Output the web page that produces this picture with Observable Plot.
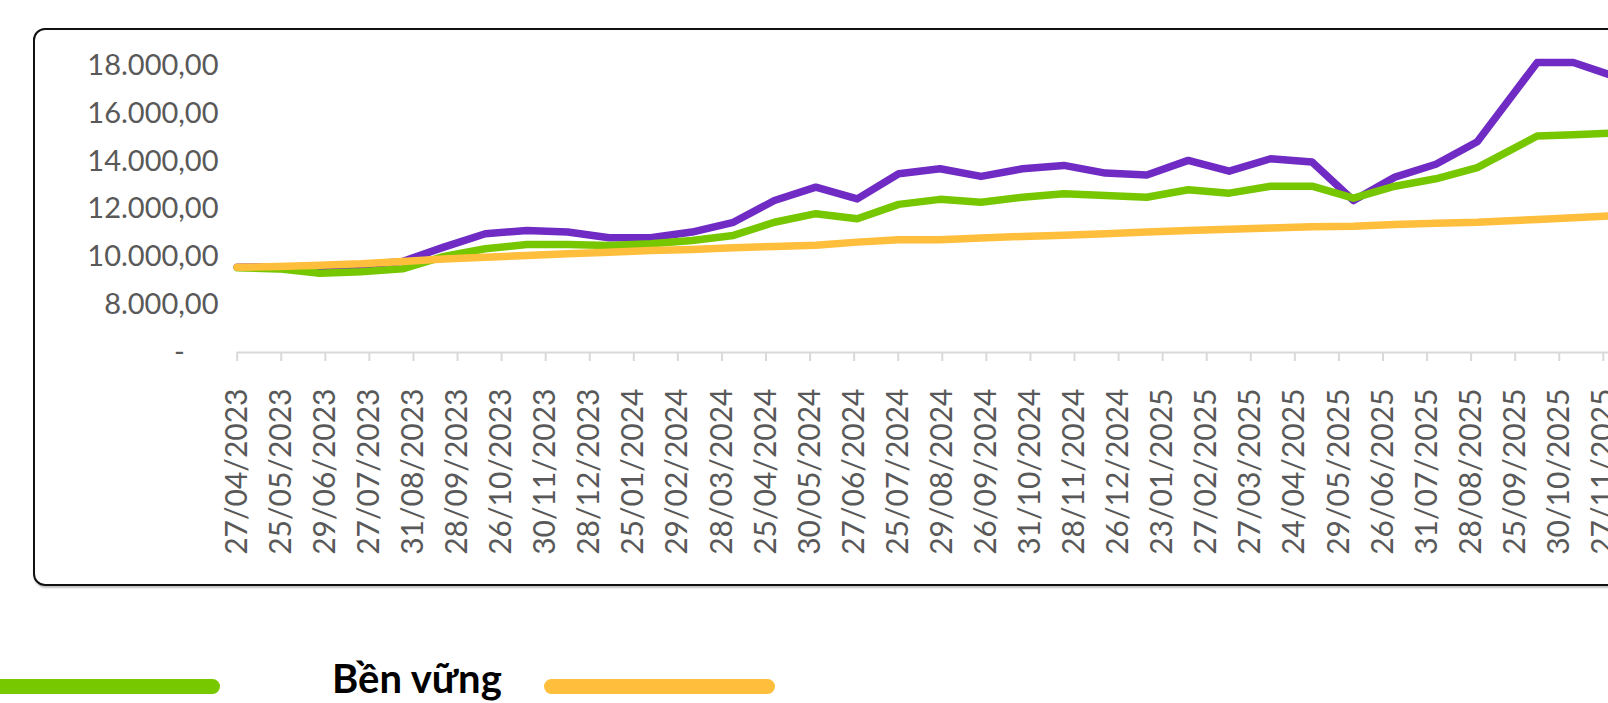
<!DOCTYPE html>
<html>
<head>
<meta charset="utf-8">
<script src="https://cdn.jsdelivr.net/npm/d3@7"></script>
<script src="https://cdn.jsdelivr.net/npm/@observablehq/plot@0.6"></script>
<style>
  html, body { margin: 0; padding: 0; width: 1608px; height: 703px; overflow: hidden; background: #fff; }
  #frame { position: absolute; left: 32.5px; top: 27.5px; width: 1800px; height: 558.5px; box-sizing: border-box;
           border: 2.5px solid #111; border-radius: 12px; box-shadow: 1px 2px 2px rgba(0,0,0,0.25); }
  #chart { position: absolute; left: 0; top: 0; width: 1700px; }
  #chart svg { max-width: none !important; }
  .bar { position: absolute; top: 678.5px; height: 15px; border-radius: 7.5px; }
  #lbl { position: absolute; left: 332px; top: 658px; font: bold 40px/40px "Lato", sans-serif; color: #000; white-space: nowrap; }
</style>
</head>
<body>
<div id="frame"></div>
<div id="chart"></div>
<div class="bar" style="left:-20px;width:240px;background:#78c800"></div>
<div id="lbl">Bền vững</div>
<div class="bar" style="left:544px;width:231px;background:#ffbf3c"></div>
<script>
// x-axis category labels (one per month)
const xLabels = ["27/04/2023","25/05/2023","29/06/2023","27/07/2023","31/08/2023","28/09/2023","26/10/2023","30/11/2023","28/12/2023","25/01/2024","29/02/2024","28/03/2024","25/04/2024","30/05/2024","27/06/2024","25/07/2024","29/08/2024","26/09/2024","31/10/2024","28/11/2024","26/12/2024","23/01/2025","27/02/2025","27/03/2025","24/04/2025","29/05/2025","26/06/2025","31/07/2025","28/08/2025","25/09/2025","30/10/2025","27/11/2025"];
// y-axis ticks and their printed labels
const yTicks = [6000, 8000, 10000, 12000, 14000, 16000, 18000];
const yTickLabels = ["-", "8.000,00", "10.000,00", "12.000,00", "14.000,00", "16.000,00", "18.000,00"];
// position of each reading, in months from the first label
const t = [0, 0.94, 1.88, 2.81, 3.75, 4.69, 5.63, 6.57, 7.50, 8.44, 9.38, 10.32, 11.26, 12.19, 13.13, 14.07, 15.01, 15.95, 16.88, 17.82, 18.76, 19.70, 20.64, 21.58, 22.51, 23.45, 24.39, 25.33, 26.27, 27.20, 28.14, 29.50, 30.32, 31.12];
// series values
const tangTruong = [9570, 9590, 9600, 9650, 9810, 10410, 10970, 11110, 11040, 10800, 10800, 11040, 11450, 12360, 12920, 12430, 13480, 13690, 13370, 13690, 13830, 13510, 13430, 14040, 13590, 14110, 13970, 12360, 13340, 13880, 14820, 18140, 18140, 17640];
const canBang = [9550, 9500, 9320, 9380, 9500, 10020, 10340, 10520, 10520, 10480, 10550, 10690, 10900, 11450, 11810, 11600, 12200, 12410, 12290, 12500, 12640, 12570, 12500, 12810, 12670, 12960, 12960, 12460, 12960, 13270, 13740, 15060, 15110, 15180];
const benVung = [9570, 9600, 9650, 9710, 9810, 9910, 9990, 10060, 10130, 10200, 10270, 10310, 10380, 10440, 10490, 10620, 10720, 10720, 10790, 10860, 10910, 10970, 11040, 11110, 11160, 11210, 11260, 11280, 11360, 11410, 11450, 11570, 11640, 11710];

const series = [
  {name: "Tăng trưởng", values: tangTruong, color: "#6f2bc3"},
  {name: "Cân bằng", values: canBang, color: "#77c700"},
  {name: "Bền vững", values: benVung, color: "#ffbe3b"}
];
const rowsOf = s => s.values.map((v, i) => ({t: t[i], v, name: s.name}));
const xTicks = xLabels.map((d, i) => i);

const chart = Plot.plot({
  width: 1700, height: 600,
  marginLeft: 236.7, marginRight: 53.1, marginTop: 41.4, marginBottom: 248,
  x: {type: "linear", domain: [0, 32]},
  y: {domain: [6000, 19000]},
  style: {fontFamily: "Lato, sans-serif", fontSize: "29px", color: "#595959", background: "transparent", overflow: "visible", maxWidth: "none"},
  marks: [
    Plot.ruleY([6000], {stroke: "#d9d9d9", strokeWidth: 2}),
    Plot.axisY({ticks: yTicks, tickFormat: (d) => { const s = yTickLabels[yTicks.indexOf(d)]; return s === "-" ? s + "\u2007\u2007" : s; },
      tickSize: 0, tickPadding: 18.7, label: null, fill: "#595959", fontSize: 29}),
    Plot.axisX({ticks: xTicks, tickFormat: i => xLabels[i], tickRotate: -90, tickSize: 9, tickPadding: 27,
      stroke: "#d9d9d9", strokeWidth: 2, label: null, fill: "#595959", fontSize: 30}),
    ...series.map(s => Plot.line(rowsOf(s), {x: "t", y: "v", stroke: s.color, strokeWidth: 7.5,
      strokeLinejoin: "round", strokeLinecap: "round"}))
  ]
});
chart.style.maxWidth = "none";
document.getElementById("chart").appendChild(chart);
</script>
</body>
</html>
